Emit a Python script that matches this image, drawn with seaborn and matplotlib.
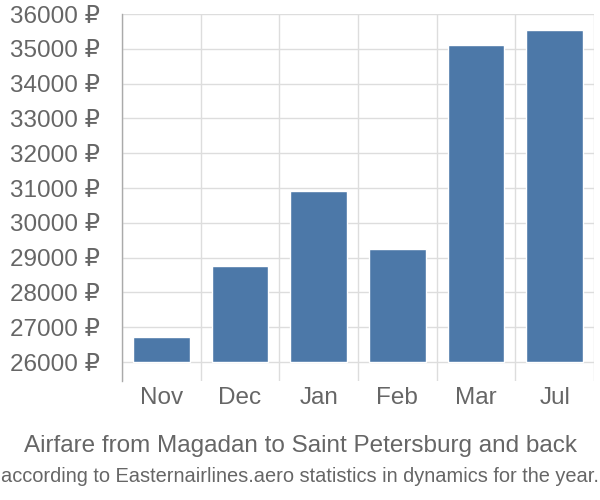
import numpy as np
import pandas as pd
import matplotlib
matplotlib.use("Agg")
import matplotlib.pyplot as plt
import seaborn as sns

months = ["Nov", "Dec", "Jan", "Feb", "Mar", "Jul"]
prices = [26710, 28760, 30910, 29260, 35110, 35540]
yticks = [26000, 27000, 28000, 29000, 30000, 31000, 32000, 33000, 34000, 35000, 36000]
base = 26000
title = "Airfare from Magadan to Saint Petersburg and back"
subtitle = "according to Easternairlines.aero statistics in dynamics for the year."

sns.set_style("white")
plt.rcParams['font.family'] = ['Liberation Sans', 'DejaVu Sans']

df = pd.DataFrame({"month": months, "height": [p - base for p in prices]})

fig = plt.figure(figsize=(6, 5), dpi=100)
ax = fig.add_axes([122/600, 1 - 381/500, (594-122)/600, (381-14)/500])

sns.barplot(data=df, x="month", y="height", color="#4c78a8", saturation=1,
            width=0.72, bottom=base, ax=ax, zorder=3)

ax.set_ylim(base - 19/34.8*1000, 36000)
ax.set_xlim(-0.5, 5.5)
ax.set_yticks(yticks)
ax.set_yticklabels([f"{v} ₽" for v in yticks])
ax.set_xticks(range(len(months)))
ax.set_xticks(np.arange(-0.5, 6.0, 1.0), minor=True)
ax.set_xlabel("")
ax.set_ylabel("")

ax.grid(axis="y", which="major", color="#dddddd", linewidth=1, zorder=0)
ax.grid(axis="x", which="minor", color="#dddddd", linewidth=1, zorder=0)
ax.grid(axis="x", which="major", visible=False)

for s in ["top", "right", "bottom"]:
    ax.spines[s].set_visible(False)
ax.spines["left"].set_color("#aaaaaa")
ax.spines["left"].set_linewidth(1)

ax.tick_params(axis="y", length=14.5, color="#dddddd", width=1, pad=1.5,
               labelsize=17.5, labelcolor="#666666")
ax.tick_params(axis="x", which="both", length=0, pad=4, labelsize=17.5, labelcolor="#666666")

fig.text(0.5, 1 - 446/500, title, ha="center", va="center", fontsize=17.5, color="#666666")
fig.text(0.5, 1 - 476/500, subtitle, ha="center", va="center", fontsize=14.4, color="#666666")

fig.savefig("out.png", dpi=100)
